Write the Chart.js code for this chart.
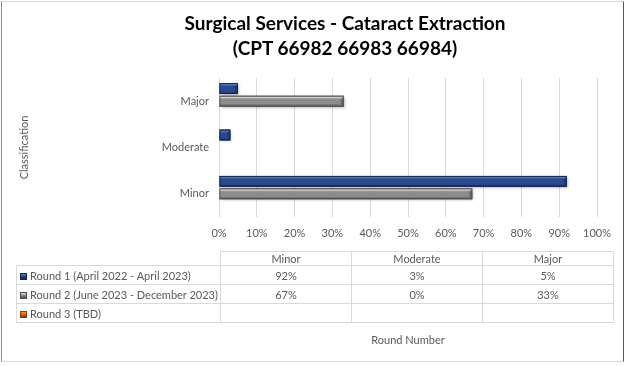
<!DOCTYPE html>
<html>
<head>
<meta charset="utf-8">
<script src="https://cdn.jsdelivr.net/npm/chart.js@4.4.1/dist/chart.umd.min.js"></script>
<style>
  html, body { margin: 0; padding: 0; background: #fff; }
  #wrap { position: relative; width: 627px; height: 366px; overflow: hidden; font-family: Lato, "Liberation Sans", sans-serif; }
  #frame { position: absolute; left: 1px; top: 1px; width: 623px; height: 361px; border: 1px solid #d9d9d9; border-left-color: #8c8c8c; border-right-color: #595959; box-sizing: border-box; pointer-events: none; }
  #chart { position: absolute; left: 0; top: 0; }
  #title { position: absolute; left: 145px; width: 400px; top: 10px; text-align: center; font-weight: bold; font-size: 19px; line-height: 25px; color: #000; }
  #tbl { position: absolute; left: 16px; top: 251px; border-collapse: collapse; font-size: 11px; line-height: 13px; color: #595959; }
  #tbl td { border: 1px solid #d9d9d9; height: 18px; padding: 0; text-align: center; white-space: nowrap; }
  #tbl tr.hd td { height: 13px; }
  #tbl td.lg { text-align: left; padding-left: 3px; width: 200px; }
  #tbl td.blank { border-top: none; border-left: none; }
  #tbl td.c { width: 130px; }
  .sw { display: inline-block; width: 7px; height: 7px; margin-right: 3px; vertical-align: 0px; }
</style>
</head>
<body>
<div id="wrap">
  <canvas id="chart" width="627" height="366"></canvas>
  <div id="title">Surgical Services - Cataract Extraction<br>(CPT 66982 66983 66984)</div>
  <table id="tbl"></table>
  <div id="frame"></div>
</div>
<script>
// ---- data ----
const categories = ['Minor', 'Moderate', 'Major'];
const seriesNames = ['Round 1 (April 2022 - April 2023)', 'Round 2 (June 2023 - December 2023)', 'Round 3 (TBD)'];
const round1 = [0.92, 0.03, 0.05];
const round2 = [0.67, 0.00, 0.33];
const round3 = [null, null, null];
const xTicks = [0, 0.1, 0.2, 0.3, 0.4, 0.5, 0.6, 0.7, 0.8, 0.9, 1.0];

const seriesValues = [round1, round2, round3];
const seriesColors = ['#2b4a8e', '#8c8c8c', '#d2600e'];
const seriesLight = ['#5878c0', '#e0e0e0', '#f59a4a'];
const seriesDark = ['#14264f', '#4d4d4d', '#8a3a05'];

const pct = v => Math.round(v * 100) + '%';

// ---- data table (built from arrays) ----
const tbl = document.getElementById('tbl');
let html = '<tr class="hd"><td class="blank lg"></td>' + categories.map(c => '<td class="c">' + c + '</td>').join('') + '</tr>';
seriesNames.forEach((n, i) => {
  const sw = '<span class="sw" style="background:linear-gradient(' + seriesLight[i] + ',' + seriesColors[i] + ' 50%,' + seriesDark[i] + ');border:1px solid ' + seriesDark[i] + ';box-sizing:border-box"></span>';
  html += '<tr><td class="lg">' + sw + n + '</td>' + seriesValues[i].map(v => '<td class="c">' + (v === null ? '' : pct(v)) + '</td>').join('') + '</tr>';
});
tbl.innerHTML = html;

// ---- bevel plugin: shades each bar element drawn by the library ----
const bevel = {
  id: 'bevel',
  afterDatasetsDraw(chart) {
    const ctx = chart.ctx;
    chart.data.datasets.forEach((ds, di) => {
      const meta = chart.getDatasetMeta(di);
      meta.data.forEach((el, i) => {
        if (ds.data[i] === null || ds.data[i] === 0) return;
        const p = el.getProps(['x', 'y', 'base', 'height'], true);
        const x0 = Math.min(p.x, p.base), x1 = Math.max(p.x, p.base);
        const y0 = p.y - p.height / 2, y1 = p.y + p.height / 2;
        const g = ctx.createLinearGradient(0, y0, 0, y1);
        g.addColorStop(0, seriesDark[di]);
        g.addColorStop(0.12, seriesLight[di]);
        g.addColorStop(0.3, seriesColors[di]);
        g.addColorStop(0.75, seriesColors[di]);
        g.addColorStop(1, seriesDark[di]);
        ctx.save();
        ctx.shadowColor = 'rgba(0,0,0,0.35)';
        ctx.shadowBlur = 3;
        ctx.shadowOffsetX = 1;
        ctx.shadowOffsetY = 1;
        ctx.fillStyle = g;
        ctx.fillRect(x0, y0, x1 - x0, y1 - y0);
        ctx.restore();
        const cap = Math.min(3, (x1 - x0) / 2);
        ctx.save();
        ctx.fillStyle = 'rgba(0,0,0,0.25)';
        ctx.beginPath();
        ctx.moveTo(x1 - cap, y0 + cap);
        ctx.lineTo(x1, y0);
        ctx.lineTo(x1, y1);
        ctx.lineTo(x1 - cap, y1 - cap);
        ctx.closePath();
        ctx.fill();
        ctx.strokeStyle = seriesDark[di];
        ctx.lineWidth = 0.8;
        ctx.strokeRect(x0 + 0.4, y0 + 0.4, x1 - x0 - 0.8, y1 - y0 - 0.8);
        ctx.restore();
      });
    });
  }
};

new Chart(document.getElementById('chart'), {
  type: 'bar',
  data: {
    labels: categories,
    datasets: seriesNames.map((n, i) => ({
      label: n,
      data: seriesValues[i],
      backgroundColor: seriesColors[i],
      borderColor: seriesDark[i],
      borderWidth: 0,
      categoryPercentage: 0.81,
      barPercentage: 0.86
    }))
  },
  options: {
    indexAxis: 'y',
    responsive: false,
    animation: false,
    layout: { padding: { left: 18, right: 30, top: 78, bottom: 19 } },
    plugins: { legend: { display: false }, tooltip: { enabled: false }, title: { display: false } },
    scales: {
      x: {
        min: 0, max: 1,
        afterBuildTicks: s => { s.ticks = xTicks.map(v => ({ value: v })); },
        afterFit: s => { s.height = 366 - 19 - 217; },
        grid: { color: '#d9d9d9', drawTicks: false, lineWidth: 1 },
        border: { display: false },
        ticks: { padding: 10, color: '#595959', font: { family: 'Lato', size: 11 }, callback: v => pct(v) },
        title: { display: true, text: 'Round Number', color: '#595959', font: { family: 'Lato', size: 11 }, padding: { top: 0, bottom: 0 } }
      },
      y: {
        reverse: true,
        afterFit: s => { s.width = 219 - 18; },
        grid: { display: false, drawTicks: false },
        border: { display: false },
        ticks: { padding: 10, color: '#595959', font: { family: 'Lato', size: 11 } },
        title: { display: true, text: 'Classification', color: '#595959', font: { family: 'Lato', size: 11 }, padding: { top: 0, bottom: 0 } }
      }
    }
  },
  plugins: [bevel]
});
</script>
</body>
</html>
